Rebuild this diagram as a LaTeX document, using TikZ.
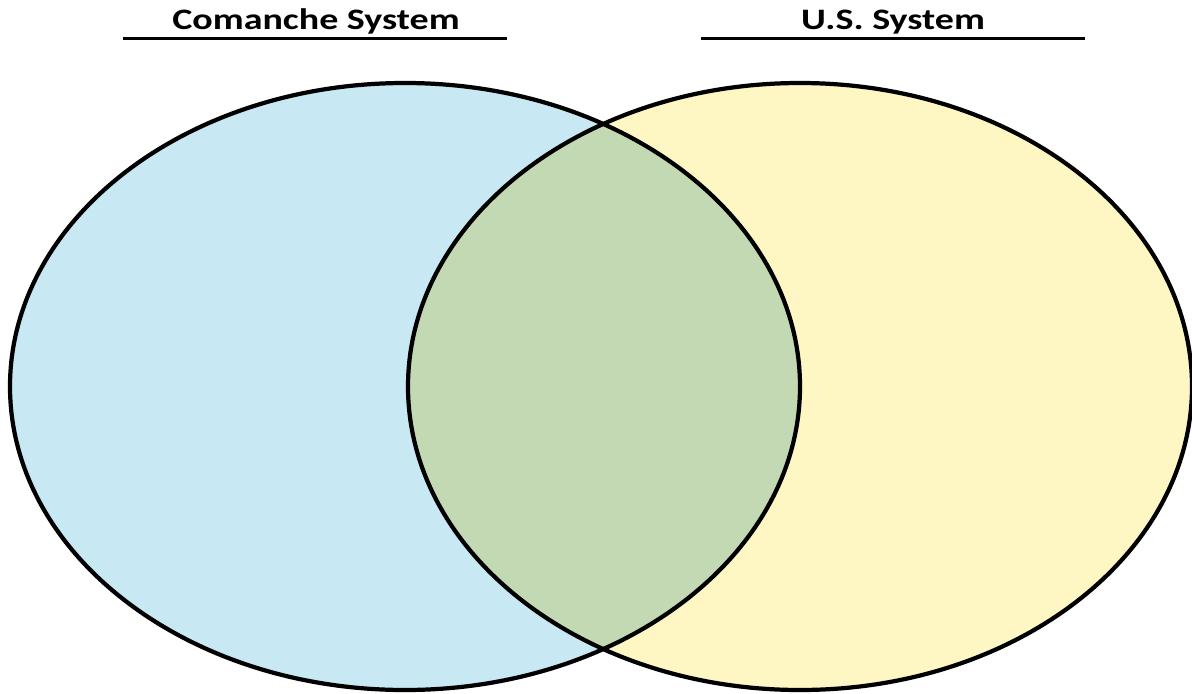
\documentclass[tikz,border=0pt]{standalone}
\usepackage{fontspec}
\setmainfont{Carlito}
\usepackage{graphicx}

\begin{document}
\begin{tikzpicture}[x=0.02cm, y=-0.02cm,
vennline/.style={line width=2.4pt},
titlerule/.style={line width=2.1pt},
titletext/.style={font=\bfseries\fontsize{16.9}{20}\selectfont, anchor=base}]

\definecolor{comanche}{HTML}{C8E8F3}
\definecolor{ussystem}{HTML}{FEF6C3}
\definecolor{overlap}{HTML}{C3D9B3}

\useasboundingbox (0,0) rectangle (1192,693);

% the two sets
\fill[comanche] (405,386.5) ellipse (395 and 303.5);
\fill[ussystem] (800,386.5) ellipse (392 and 303.5);
\begin{scope}
\clip (405,386.5) ellipse (395 and 303.5);
\fill[overlap] (800,386.5) ellipse (392 and 303.5);
\end{scope}

\draw[vennline] (405,386.5) ellipse (395 and 303.5);
\draw[vennline] (800,386.5) ellipse (392 and 303.5);

% titles
\node[titletext] (comtitle) at (316,30) {\scalebox{1.28}[1]{Comanche System}};
\node[titletext] (ustitle) at (893,30) {\scalebox{1.28}[1]{U.S. System}};

\coordinate (comruleL) at (123,38.5);
\coordinate (comruleR) at (507,38.5);
\coordinate (usruleL) at (701,38.5);
\coordinate (usruleR) at (1085,38.5);
\draw[titlerule] (comruleL) -- (comruleR);
\draw[titlerule] (usruleL) -- (usruleR);

\end{tikzpicture}
\end{document}
